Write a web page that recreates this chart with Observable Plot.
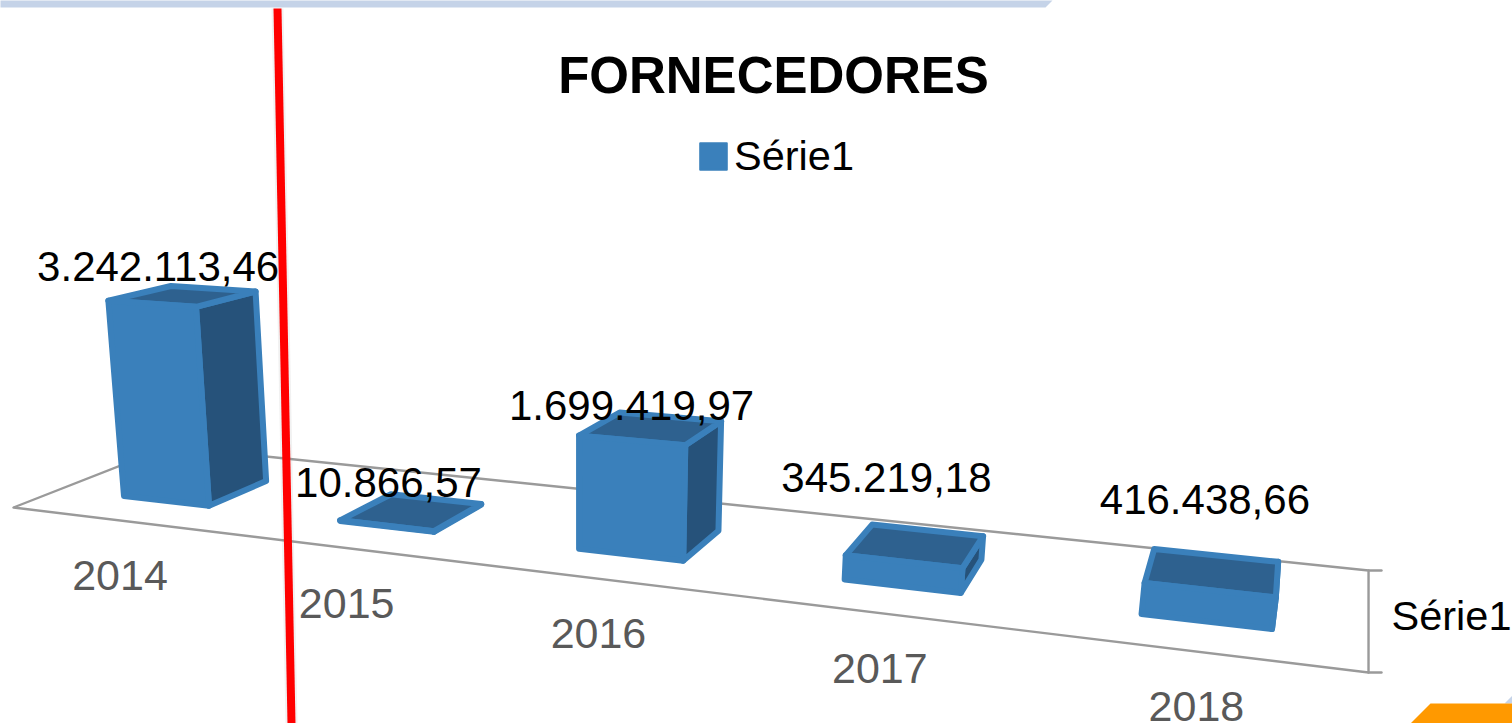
<!DOCTYPE html>
<html>
<head>
<meta charset="utf-8">
<script src="https://cdn.jsdelivr.net/npm/d3@7"></script>
<script src="https://cdn.jsdelivr.net/npm/@observablehq/plot@0.6"></script>
<style>html,body{margin:0;padding:0;background:#fff;overflow:hidden}svg{display:block}</style>
</head>
<body>
<div id="chart"></div>
<script>
const title = "FORNECEDORES";
const seriesName = "Série1";
const years = ["2014", "2015", "2016", "2017", "2018"];
const values = [3242113.46, 10866.57, 1699419.97, 345219.18, 416438.66];
const labelNudgeX = [-21, -20, -17, -27, -6];
const labelNudgeY = [-28, -28, -22, -67, -71];

const FONT = "Liberation Sans";
const FRONT = "#3a80bb", SIDE = "#26527a", TOP = "#2e618f", GRID = "#9a9a9a";
const ptBR = d3.formatLocale({decimal: ",", thousands: ".", grouping: [3], currency: ["R$", ""]}).format(",.2f");

// The chart floor is a plane seen in perspective: u runs along the categories, v into the depth.
function project(u, v, value = 0) {
  const w = 1 - 0.2438 * u + 0.1301 * v;
  const x = (13 + 1021.5 * u + 178 * v) / w;
  const y = (507 + 1.2 * u - 3 * v) / w;
  const lift = 6.15e-5 * value / w;
  return {x: x + (x - 580) * lift / 5700, y: y - lift};
}

const halfBar = 0.0405, vFront = 0.283, vBack = 0.66;
const rows = years.map((year, i) => ({year, value: values[i], u: (i + 0.5) / years.length, i}));
function face(kind) {
  return rows.flatMap((r) => {
    const shift = 0.002;
    const a = r.u - halfBar + shift, b = r.u + halfBar + shift, h = r.value;
    const corners = {
      front: [[a, vFront, 0], [b, vFront, 0], [b, vFront, h], [a, vFront, h]],
      side: [[b, vFront, 0], [b, vBack, 0], [b, vBack, h], [b, vFront, h]],
      top: [[a, vFront, h], [b, vFront, h], [b, vBack, h], [a, vBack, h]]
    }[kind];
    return corners.map(([u, v, val]) => {
      const p = project(u, v, val);
      return {x: p.x + (v - vFront) * (10 - 20 * r.u), y: p.y, bar: r.year};
    });
  });
}
const shape = (kind, fill) => Plot.line(face(kind), {
  x: "x", y: "y", z: "bar", curve: "linear-closed", fill,
  stroke: FRONT, strokeWidth: 6, strokeLinejoin: "round"
});

const floor = [[0, 0], [1, 0], [1, 1], [0, 1]].map(([u, v]) => project(u, v));
const axisTicks = [
  [{x: 1368, y: 570}, {x: 1381, y: 570}],
  [{x: 1368, y: 672}, {x: 1381, y: 672}]
].flatMap((seg, k) => seg.map((p) => ({...p, k})));

const categoryLabels = rows.map((r) => {
  const p = project(r.u, 0);
  return {x: p.x + 1.5, y: p.y + 56, text: r.year};
});
const dataLabels = rows.map((r) => {
  const p = project(r.u, 0.47, r.value);
  return {x: p.x + labelNudgeX[r.i], y: p.y + labelNudgeY[r.i], text: ptBR(r.value)};
});

const band = [{x: 0, y: 0}, {x: 1052, y: 0}, {x: 1045, y: 7}, {x: 0, y: 7}];
const orange = [{x: 1410, y: 723}, {x: 1430, y: 703}, {x: 1512, y: 703}, {x: 1512, y: 723}];
const corner = [{x: 1504, y: 703}, {x: 1512, y: 695}, {x: 1512, y: 703}];
const poly = (d, fill) => Plot.line(d, {x: "x", y: "y", curve: "linear-closed", fill, stroke: "none"});
const redLine = [{x: 277, y: 8}, {x: 291, y: 723}];

const chart = Plot.plot({
  width: 1512, height: 723, margin: 0,
  style: {background: "#fff", fontFamily: FONT},
  x: {domain: [0, 1512], range: [0, 1512], axis: null},
  y: {domain: [0, 723], range: [0, 723], axis: null},
  marks: [
    poly(band, "#c5d3e8"), poly(corner, "#c5d3e8"), poly(orange, "#ff9900"),
    Plot.line(floor, {x: "x", y: "y", curve: "linear-closed", stroke: GRID, strokeWidth: 2.4}),
    Plot.line(axisTicks, {x: "x", y: "y", z: "k", stroke: GRID, strokeWidth: 2.4}),
    shape("side", SIDE), shape("top", TOP), shape("front", FRONT),
    Plot.text(categoryLabels, {x: "x", y: "y", text: "text", fontSize: 43, fill: "#595959", fontFamily: FONT}),
    Plot.text(dataLabels, {x: "x", y: "y", text: "text", fontSize: 42, fill: "#000", fontFamily: FONT}),
    Plot.text([title], {x: 773, y: 76, text: (d) => d, fontSize: 51, fontWeight: "bold", fill: "#000", fontFamily: FONT}),
    Plot.dot([seriesName], {x: 713, y: 156, symbol: "square", r: 15, fill: FRONT, stroke: FRONT, strokeWidth: 2, strokeLinejoin: "round"}),
    Plot.text([seriesName], {x: 733.5, y: 156, text: (d) => d, textAnchor: "start", fontSize: 41.5, fill: "#000", fontFamily: FONT}),
    Plot.text([seriesName], {x: 1391, y: 616, text: (d) => d, textAnchor: "start", fontSize: 41.5, fill: "#000", fontFamily: FONT}),
    Plot.line(redLine, {x: "x", y: "y", stroke: "#888", strokeWidth: 12, strokeOpacity: 0.12, strokeLinecap: "butt"}),
    Plot.line(redLine, {x: "x", y: "y", stroke: "#ff0000", strokeWidth: 8, strokeLinecap: "butt"})
  ]
});
document.getElementById("chart").append(chart);
</script>
</body>
</html>
